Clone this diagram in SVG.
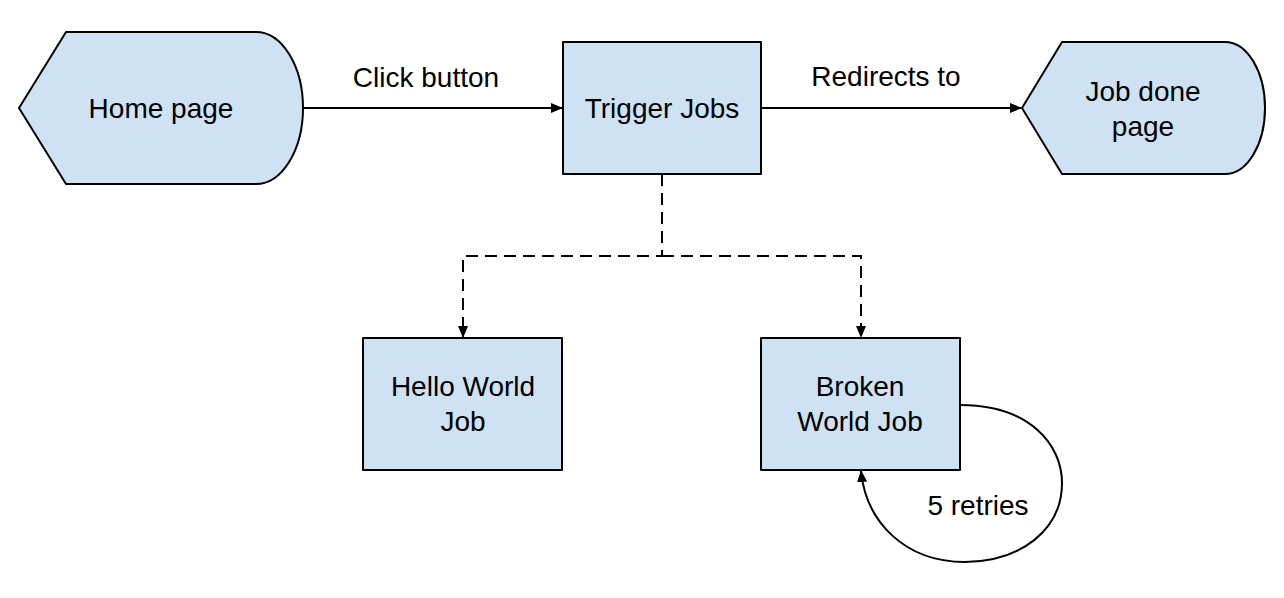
<svg xmlns="http://www.w3.org/2000/svg" width="1284" height="598" viewBox="0 0 1284 598">
<style>
.node{fill:#cfe2f3;stroke:#000;stroke-width:2;stroke-linejoin:round}
.t{font-family:"Liberation Sans",Arial,sans-serif;font-size:28px;fill:#000;text-anchor:middle}
.c{fill:none;stroke:#000;stroke-width:2}
.d{stroke-dasharray:12 7}
</style>
<defs>
<marker id="ah" markerUnits="userSpaceOnUse" markerWidth="12" markerHeight="10" refX="11" refY="5" orient="auto">
<path d="M0,0 L12,5 L0,10 Z" fill="#000"/>
</marker>
</defs>
<rect width="1284" height="598" fill="#fff"/>
<g id="connectors">
<path class="c" d="M303,108 H562" marker-end="url(#ah)"/>
<path class="c" d="M761,108 H1021" marker-end="url(#ah)"/>
<path class="c d" d="M662,174 V256 H463 V337" marker-end="url(#ah)"/>
<path class="c d" d="M662,256 H861 V337" marker-end="url(#ah)"/>
<path class="c" d="M960,405 C1030,405 1062,445 1062,483 C1062,530 1020,562 965,562 C905,562 866,522 861,471" marker-end="url(#ah)"/>
<text class="t" x="426" y="87">Click button</text>
<text class="t" x="886" y="86">Redirects to</text>
<text class="t" x="978" y="515">5 retries</text>
</g>
<g id="home">
<path class="node" d="M19,108 L66,32 H256 A47,76 0 0 1 256,184 H66 Z"/>
<text class="t" x="161" y="118">Home page</text>
</g>
<g id="trigger">
<rect class="node" x="563" y="42" width="198" height="132"/>
<text class="t" x="662" y="118">Trigger Jobs</text>
</g>
<g id="done">
<path class="node" d="M1022,108 L1062,42 H1225 A40,66 0 0 1 1225,174 H1062 Z"/>
<text class="t" x="1143" y="101">Job done</text>
<text class="t" x="1143" y="136">page</text>
</g>
<g id="hello">
<rect class="node" x="363" y="338" width="199" height="132"/>
<text class="t" x="463" y="396">Hello World</text>
<text class="t" x="463" y="431">Job</text>
</g>
<g id="broken">
<rect class="node" x="761" y="338" width="199" height="132"/>
<text class="t" x="860" y="396">Broken</text>
<text class="t" x="860" y="431">World Job</text>
</g>
</svg>
